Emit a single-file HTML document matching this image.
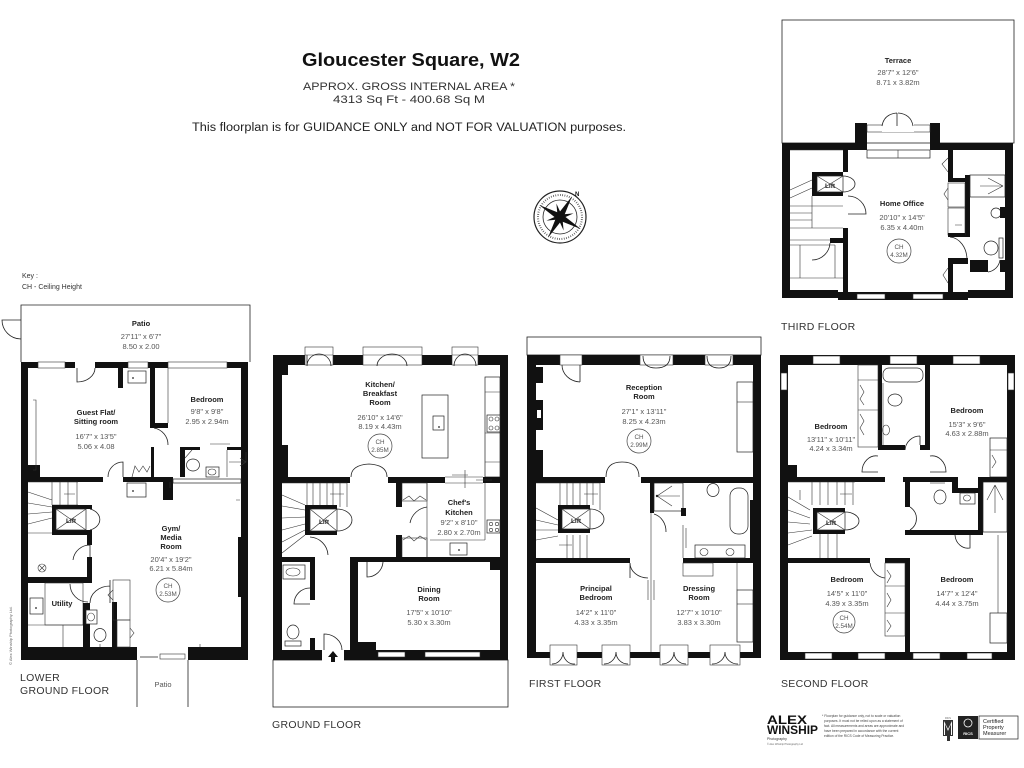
<!DOCTYPE html>
<html><head><meta charset="utf-8"><style>
html,body{margin:0;padding:0;background:#fff}
svg{display:block}
</style></head><body>
<svg xmlns="http://www.w3.org/2000/svg" width="1024" height="768" viewBox="0 0 1024 768">
<style>
.w{fill:#111}
.l{fill:none;stroke:#222;stroke-width:.8}
.t{fill:none;stroke:#333;stroke-width:.6}
.f{fill:#fff;stroke:#222;stroke-width:.7}
.wn{fill:#fff;stroke:#333;stroke-width:.6}
text{font-family:"Liberation Sans",sans-serif}
.n{font-weight:bold;font-size:7.5px;fill:#222;text-anchor:middle}
.d{font-size:7.5px;fill:#555;text-anchor:middle}
.c{font-size:6.3px;fill:#555;text-anchor:middle}
.lf{font-size:6.5px;fill:#222;text-anchor:middle;font-weight:bold}
.fl{font-size:10.5px;fill:#333;letter-spacing:.3px}
</style>
<rect width="1024" height="768" fill="#fff"/>

<!-- HEADER -->
<text x="411" y="66" text-anchor="middle" font-size="18.5" font-weight="bold" fill="#111" textLength="218" lengthAdjust="spacingAndGlyphs">Gloucester Square, W2</text>
<text x="409" y="90" text-anchor="middle" font-size="11" fill="#333" textLength="212" lengthAdjust="spacingAndGlyphs">APPROX. GROSS INTERNAL  AREA *</text>
<text x="409" y="103" text-anchor="middle" font-size="11" fill="#333" textLength="152" lengthAdjust="spacingAndGlyphs">4313 Sq Ft  -  400.68 Sq M</text>
<text x="409" y="131" text-anchor="middle" font-size="11.5" fill="#222" textLength="434" lengthAdjust="spacingAndGlyphs">This floorplan is for GUIDANCE ONLY and NOT FOR VALUATION purposes.</text>

<text x="22" y="278" font-size="7" fill="#333">Key :</text>
<text x="22" y="289" font-size="7" fill="#333">CH - Ceiling Height</text>

<!-- COMPASS -->
<g>
<circle cx="560" cy="217" r="26" fill="none" stroke="#222" stroke-width="1.2"/>
<circle cx="560" cy="217" r="22" fill="none" stroke="#444" stroke-width="2" stroke-dasharray=".7 1.6"/>
<circle cx="560" cy="217" r="17" fill="none" stroke="#222" stroke-width=".8"/>
<g transform="rotate(30 560 217)">
<polygon points="560,193 563,214 584,217 563,220 560,241 557,220 536,217 557,214" fill="#111"/>
</g>
<g transform="rotate(75 560 217)">
<polygon points="560,203 562,215 574,217 562,219 560,231 558,219 546,217 558,215" fill="#111"/>
</g>
<text x="575" y="196" font-size="6" font-weight="bold" fill="#111">N</text>
</g>

<!-- ============ LOWER GROUND FLOOR ============ -->
<path class="l" d="M21 362V305H250V362"/>
<path class="l" d="M21 320H2A19 19 0 0 0 21 339"/>
<rect class="w" x="21" y="362" width="227" height="6"/>
<rect class="wn" x="38" y="362" width="27" height="6"/>
<rect class="wn" x="128" y="362" width="20" height="6"/>
<rect class="wn" x="168" y="362" width="59" height="6"/>
<rect x="75" y="361" width="20" height="8" fill="#fff"/>
<path class="l" d="M77 368V382A18 14 0 0 0 95 368"/>
<rect class="w" x="21" y="362" width="7" height="298"/>
<rect class="w" x="241" y="362" width="7" height="298"/>
<rect class="w" x="21" y="647" width="116" height="13"/>
<rect class="w" x="188" y="647" width="60" height="13"/>
<rect class="wn" x="160" y="654" width="25" height="5"/>
<path class="l" d="M137 660V707M188 660V707M140 657H158"/>
<!-- interior -->
<rect class="w" x="28" y="465" width="12" height="17"/>
<rect class="w" x="28" y="477" width="75" height="5"/>
<path class="l" d="M123 477V462A15 15 0 0 0 108 477"/>
<rect class="w" x="123" y="477" width="50" height="5"/>
<rect class="w" x="163" y="477" width="10" height="23"/>
<rect class="f" x="173" y="479" width="68" height="4"/>
<rect class="f" x="127" y="483" width="19" height="14"/>
<circle cx="133" cy="491" r=".9" fill="#222"/>
<rect class="w" x="118" y="368" width="5" height="20"/>
<rect class="f" x="128" y="371" width="18" height="12"/>
<circle cx="133" cy="378" r=".9" fill="#222"/>
<rect class="w" x="150" y="368" width="5" height="60"/>
<rect class="w" x="150" y="423" width="18" height="5"/>
<path class="t" d="M168 368V423"/>
<path class="l" d="M154 428A17 17 0 0 1 168 445"/>
<rect class="w" x="151" y="447" width="3" height="30"/>
<path class="t" d="M132 477L135 466L139 472L143 466L147 472L150 466"/>
<path class="t" d="M33 400H36V470H33"/>
<!-- bathroom LG -->
<path class="w" d="M180 447H200V450H185V477H180Z"/>
<path class="t" d="M185 458L192 450"/>
<rect class="w" x="227" y="447" width="21" height="3"/>
<path class="t" d="M210 444H230M227 450V477"/>
<ellipse class="f" cx="193" cy="465" rx="6.5" ry="6"/>
<rect class="f" x="206" y="467" width="13" height="10"/>
<ellipse class="t" cx="212" cy="472" rx="4" ry="3"/>
<path class="t" d="M229 462H246M240 458L246 462L240 466M246 462V452"/>
<!-- stairs LG -->
<path class="t" d="M28 482H78M52 482V505M60 482V505M68 482V505M77 482V505M52 505H78M28 492L52 500M28 503L52 507M28 514L52 512M28 524L52 518M28 533H52M64 494H75"/>
<rect class="w" x="52" y="505" width="40" height="4"/>
<rect class="w" x="52" y="505" width="4" height="30"/>
<rect class="w" x="52" y="530" width="40" height="5"/>
<rect class="f" x="56" y="509" width="30" height="21"/>
<path class="t" d="M56 509L86 530M86 509L56 530"/>
<text class="lf" x="71" y="523">Lift</text>
<path class="l" d="M90 509A14 11 0 0 1 90 530"/>
<rect class="w" x="87" y="535" width="5" height="10"/>
<path class="l" d="M90 545A17 17 0 0 0 73 560M90 545V560"/>
<rect class="w" x="87" y="557" width="5" height="21"/>
<rect class="w" x="21" y="577" width="71" height="6"/>
<circle class="t" cx="42" cy="568" r="4"/>
<path class="t" d="M39 565L45 571M45 565L39 571"/>
<!-- utility/WC -->
<rect class="t" x="45" y="583" width="38" height="42"/>
<rect class="f" x="30" y="598" width="13" height="16"/>
<circle cx="36" cy="608" r=".9" fill="#222"/>
<path class="t" d="M28 625H83M63 625V647"/>
<path class="l" d="M70 584A18 18 0 0 0 88 602"/>
<rect class="w" x="83" y="603" width="7" height="44"/>
<path class="l" d="M90 603A20 17 0 0 1 110 586M110 580V603"/>
<rect class="f" x="86" y="610" width="11" height="14"/>
<ellipse class="t" cx="91" cy="617" rx="3.5" ry="4"/>
<ellipse class="f" cx="100" cy="635" rx="6" ry="6.5"/>
<rect class="w" x="112" y="602" width="5" height="45"/>
<rect class="t" x="113" y="580" width="17" height="40"/>
<rect class="t" x="117" y="620" width="13" height="27"/>
<path class="t" d="M113 590L108 595L113 600M130 628L134 633L130 638"/>
<rect class="w" x="238" y="537" width="10" height="60"/>
<path class="t" d="M170 482V488M100 644V647M200 644V647M240 500H236"/>
<!-- text LG -->
<text class="n" x="141" y="326">Patio</text>
<text class="d" x="141" y="339">27'11" x 6'7"</text>
<text class="d" x="141" y="349">8.50 x 2.00</text>
<text class="n" x="96" y="415">Guest Flat/</text>
<text class="n" x="96" y="424">Sitting room</text>
<text class="d" x="96" y="439">16'7" x 13'5"</text>
<text class="d" x="96" y="449">5.06 x 4.08</text>
<text class="n" x="207" y="402">Bedroom</text>
<text class="d" x="207" y="414">9'8" x 9'8"</text>
<text class="d" x="207" y="424">2.95 x 2.94m</text>
<text class="n" x="171" y="531">Gym/</text>
<text class="n" x="171" y="540">Media</text>
<text class="n" x="171" y="549">Room</text>
<text class="d" x="171" y="562">20'4" x 19'2"</text>
<text class="d" x="171" y="571">6.21 x 5.84m</text>
<circle cx="168" cy="590" r="12" fill="none" stroke="#444" stroke-width=".7"/>
<text class="c" x="168" y="588">CH</text>
<text class="c" x="168" y="596">2.53M</text>
<text class="n" x="62" y="606">Utility</text>
<text x="163" y="687" font-size="7.5" fill="#555" text-anchor="middle">Patio</text>
<text x="12" y="665" font-size="4" fill="#666" transform="rotate(-90 12 665)">© Alex Winship Photography Ltd.</text>
<text class="fl" x="20" y="681">LOWER</text>
<text class="fl" x="20" y="694">GROUND FLOOR</text>

<!-- ============ GROUND FLOOR ============ -->
<rect class="l" x="273" y="660" width="235" height="47"/>
<rect class="w" x="273" y="355" width="235" height="10"/>
<rect class="w" x="273" y="355" width="9" height="305"/>
<rect class="w" x="500" y="355" width="8" height="305"/>
<rect class="w" x="273" y="650" width="235" height="10"/>
<!-- top openings -->
<rect class="wn" x="305" y="347" width="28" height="18"/>
<rect class="wn" x="363" y="347" width="59" height="18"/>
<rect class="wn" x="452" y="347" width="26" height="18"/>
<path class="t" d="M305 355H333M363 355H422M452 355H478"/>
<path class="l" d="M307 365V355M307 366A12 12 0 0 1 319 354M331 366A12 12 0 0 0 319 354"/>
<path class="l" d="M377 366A15 12 0 0 1 392 354M407 366A15 12 0 0 0 392 354"/>
<path class="l" d="M454 366A11 12 0 0 1 465 354M476 366A11 12 0 0 0 465 354"/>
<rect class="w" x="282" y="365" width="6" height="10"/>
<rect class="w" x="282" y="445" width="6" height="32"/>
<!-- counters -->
<rect class="f" x="485" y="377" width="15" height="100"/>
<path class="t" d="M485 392H500M485 433H500M485 462H500"/>
<rect class="f" x="487" y="415" width="13" height="17"/>
<circle class="t" cx="491" cy="419" r="2"/><circle class="t" cx="497" cy="419" r="2"/><circle class="t" cx="491" cy="428" r="2"/><circle class="t" cx="497" cy="428" r="2"/>
<rect class="f" x="422" y="395" width="26" height="63"/>
<rect class="f" x="433" y="416" width="11" height="14"/>
<circle cx="439" cy="427" r=".9" fill="#222"/>
<!-- middle wall -->
<rect class="w" x="282" y="477" width="68" height="6"/>
<path class="l" d="M351 477Q351 465 369 464M387 477Q387 465 369 464"/>
<rect class="w" x="388" y="477" width="57" height="6"/>
<rect class="w" x="483" y="477" width="17" height="6"/>
<path class="t" d="M445 477H483M445 483H483M452 475H468M476 480H492M465 470V488"/>
<rect class="w" x="396" y="483" width="6" height="24"/>
<rect class="w" x="396" y="535" width="6" height="25"/>
<rect class="t" x="402" y="483" width="25" height="18"/>
<rect class="t" x="402" y="538" width="25" height="20"/>
<path class="t" d="M403 500L409 496L414 501L420 496L426 500M403 540L409 536L414 541L420 536L426 540M427 483V560"/>
<path class="l" d="M427 507A20 20 0 0 0 410 523"/>
<path class="t" d="M430 540H485M485 483V540"/>
<rect class="f" x="487" y="520" width="13" height="13"/>
<circle class="t" cx="491" cy="524" r="1.7"/><circle class="t" cx="497" cy="524" r="1.7"/><circle class="t" cx="491" cy="530" r="1.7"/><circle class="t" cx="497" cy="530" r="1.7"/>
<rect class="f" x="450" y="543" width="17" height="12"/>
<circle cx="459" cy="550" r=".9" fill="#222"/>
<!-- stairs GF -->
<path class="t" d="M282 483H347M307 483V507M313 483V507M320 483V507M327 483V507M333 483V507M340 483V507M347 483V507M282 495L305 505M282 506L305 510M282 518L305 517M282 530L305 524M282 542L305 530M282 553L305 535M330 494H344"/>
<rect class="w" x="305" y="505" width="32" height="4"/>
<rect class="w" x="305" y="505" width="5" height="30"/>
<rect class="w" x="305" y="531" width="32" height="4"/>
<rect class="f" x="310" y="509" width="27" height="22"/>
<path class="t" d="M310 509L337 531M337 509L310 531"/>
<text class="lf" x="324" y="524">Lift</text>
<path class="l" d="M337 509A15 11 0 0 1 337 531"/>
<path class="l" d="M310 537A19 19 0 0 1 328 555"/>
<rect class="w" x="282" y="557" width="33" height="5"/>
<rect class="w" x="310" y="562" width="5" height="38"/>
<rect class="w" x="310" y="638" width="5" height="12"/>
<path class="l" d="M310 604H294A16 16 0 0 1 310 588"/>
<rect class="f" x="283" y="565" width="22" height="14"/>
<ellipse class="t" cx="293" cy="572" rx="7" ry="4"/>
<ellipse class="f" cx="293" cy="632" rx="6" ry="7"/>
<rect class="f" x="285" y="641" width="16" height="5"/>
<!-- dining -->
<rect class="w" x="350" y="557" width="150" height="5"/>
<rect class="w" x="350" y="562" width="8" height="88"/>
<path class="l" d="M367 562V577A16 16 0 0 0 383 562"/>
<rect class="w" x="490" y="562" width="10" height="8"/>
<rect class="w" x="358" y="642" width="18" height="8"/>
<rect class="wn" x="378" y="652" width="27" height="5"/>
<rect class="wn" x="425" y="652" width="55" height="5"/>
<rect x="322" y="649" width="22" height="12" fill="#fff"/>
<path class="l" d="M324 650V634A18 16 0 0 1 342 650"/>
<path d="M333 651L328 657H331V662H335V657H338Z" fill="#111"/>
<!-- text GF -->
<text class="n" x="380" y="387">Kitchen/</text>
<text class="n" x="380" y="396">Breakfast</text>
<text class="n" x="380" y="405">Room</text>
<text class="d" x="380" y="420">26'10" x 14'6"</text>
<text class="d" x="380" y="429">8.19 x 4.43m</text>
<circle cx="380" cy="446" r="12" fill="none" stroke="#444" stroke-width=".7"/>
<text class="c" x="380" y="444">CH</text>
<text class="c" x="380" y="452">2.85M</text>
<text class="n" x="459" y="505">Chef's</text>
<text class="n" x="459" y="515">Kitchen</text>
<text class="d" x="459" y="525">9'2" x 8'10"</text>
<text class="d" x="459" y="535">2.80 x 2.70m</text>
<text class="n" x="429" y="592">Dining</text>
<text class="n" x="429" y="601">Room</text>
<text class="d" x="429" y="615">17'5" x 10'10"</text>
<text class="d" x="429" y="625">5.30 x 3.30m</text>
<text class="fl" x="272" y="728">GROUND FLOOR</text>

<!-- ============ FIRST FLOOR ============ -->
<rect class="l" x="527" y="337" width="234" height="18"/>
<rect class="w" x="527" y="355" width="234" height="10"/>
<rect class="w" x="527" y="355" width="9" height="303"/>
<rect class="w" x="753" y="355" width="8" height="303"/>
<rect class="w" x="527" y="652" width="234" height="6"/>
<rect class="wn" x="560" y="355" width="22" height="10"/>
<path class="l" d="M562 365A19 17 0 0 0 580 382M580 365V382"/>
<rect class="wn" x="640" y="355" width="33" height="10"/>
<path class="l" d="M643 356Q643 368 656 368M670 356Q670 368 656 368"/>
<rect class="wn" x="705" y="355" width="28" height="10"/>
<path class="l" d="M707 356Q707 368 719 368M731 356Q731 368 719 368"/>
<rect class="w" x="535" y="367" width="8" height="16"/>
<rect class="w" x="535" y="400" width="8" height="30"/>
<rect x="537" y="410" width="4" height="8" fill="#fff"/>
<rect class="w" x="535" y="450" width="8" height="27"/>
<rect class="f" x="737" y="382" width="16" height="70"/>
<path class="t" d="M737 402H753"/>
<rect class="w" x="536" y="477" width="69" height="6"/>
<path class="l" d="M606 477Q606 462 622 462M639 477Q639 462 622 462"/>
<rect class="w" x="641" y="477" width="112" height="6"/>
<!-- stairs FF -->
<path class="t" d="M536 483H600M560 483V505M567 483V505M573 483V505M580 483V505M587 483V505M593 483V505M600 483V510M536 508L558 520M536 520L558 525M536 530L558 530M536 540L558 536M567 535V558M573 535V558M580 535V558M587 535V558M559 545H572M584 494H598"/>
<rect class="w" x="558" y="505" width="32" height="4"/>
<rect class="w" x="558" y="505" width="4" height="28"/>
<rect class="w" x="558" y="529" width="32" height="4"/>
<rect class="f" x="562" y="509" width="28" height="20"/>
<path class="t" d="M562 509L590 529M590 509L562 529"/>
<text class="lf" x="576" y="523">Lift</text>
<path class="l" d="M590 509A14 10 0 0 1 590 529"/>
<rect class="w" x="536" y="558" width="94" height="5"/>
<path class="l" d="M630 563V578M630 563A18 15 0 0 0 648 578"/>
<rect class="w" x="683" y="558" width="70" height="5"/>
<!-- bath FF -->
<rect class="w" x="650" y="483" width="4" height="30"/>
<path class="t" d="M651 513V652M654 580V600M648 580V600"/>
<path class="l" d="M654 514A16 18 0 0 1 666 532"/>
<rect class="f" x="654" y="483" width="29" height="28"/>
<rect class="w" x="681" y="508" width="5" height="8"/>
<path class="t" d="M657 496H680M657 496L672 486M657 496L672 506"/>
<circle cx="657" cy="496" r="1.2" fill="#222"/>
<ellipse class="f" cx="713" cy="490" rx="6" ry="6.5"/>
<rect class="f" x="730" y="488" width="18" height="46" rx="8"/>
<rect class="w" x="750" y="500" width="4" height="60"/>
<rect class="f" x="695" y="545" width="50" height="13"/>
<ellipse class="t" cx="704" cy="552" rx="4" ry="3.5"/>
<ellipse class="t" cx="730" cy="552" rx="4" ry="3.5"/>
<path class="t" d="M683 525V558M686 528V548"/>
<rect class="t" x="683" y="563" width="30" height="13"/>
<path class="t" d="M737 563V590"/>
<rect class="f" x="737" y="590" width="16" height="52"/>
<path class="t" d="M737 604H753"/>
<!-- bottom french doors FF -->
<rect class="wn" x="550" y="645" width="27" height="20"/>
<rect class="wn" x="602" y="645" width="28" height="20"/>
<rect class="wn" x="660" y="645" width="28" height="20"/>
<rect class="wn" x="710" y="645" width="30" height="20"/>
<path class="l" d="M552 664A11 12 0 0 0 563 652M575 664A11 12 0 0 1 563 652M604 664A12 12 0 0 0 616 652M628 664A12 12 0 0 1 616 652M662 664A12 12 0 0 0 674 652M686 664A12 12 0 0 1 674 652M712 664A13 12 0 0 0 725 652M738 664A13 12 0 0 1 725 652"/>
<!-- text FF -->
<text class="n" x="644" y="390">Reception</text>
<text class="n" x="644" y="399">Room</text>
<text class="d" x="644" y="414">27'1" x 13'11"</text>
<text class="d" x="644" y="424">8.25 x 4.23m</text>
<circle cx="639" cy="441" r="12" fill="none" stroke="#444" stroke-width=".7"/>
<text class="c" x="639" y="439">CH</text>
<text class="c" x="639" y="447">2.99M</text>
<text class="n" x="596" y="591">Principal</text>
<text class="n" x="596" y="600">Bedroom</text>
<text class="d" x="596" y="615">14'2" x 11'0"</text>
<text class="d" x="596" y="625">4.33 x 3.35m</text>
<text class="n" x="699" y="591">Dressing</text>
<text class="n" x="699" y="600">Room</text>
<text class="d" x="699" y="615">12'7" x 10'10"</text>
<text class="d" x="699" y="625">3.83 x 3.30m</text>
<text class="fl" x="529" y="687">FIRST FLOOR</text>

<!-- ============ SECOND FLOOR ============ -->
<rect class="w" x="780" y="355" width="235" height="10"/>
<rect class="w" x="780" y="355" width="8" height="305"/>
<rect class="w" x="1007" y="355" width="8" height="305"/>
<rect class="w" x="780" y="652" width="235" height="8"/>
<rect class="wn" x="813" y="356" width="27" height="8"/>
<rect class="wn" x="890" y="356" width="27" height="8"/>
<rect class="wn" x="953" y="356" width="27" height="8"/>
<rect class="wn" x="781" y="373" width="6" height="17"/>
<rect class="wn" x="1008" y="373" width="6" height="17"/>
<rect class="wn" x="805" y="653" width="27" height="6"/>
<rect class="wn" x="858" y="653" width="27" height="6"/>
<rect class="wn" x="913" y="653" width="27" height="6"/>
<rect class="wn" x="967" y="653" width="25" height="6"/>
<rect class="w" x="878" y="365" width="4" height="85"/>
<rect class="w" x="925" y="365" width="5" height="85"/>
<rect class="w" x="878" y="445" width="27" height="5"/>
<rect class="w" x="920" y="445" width="10" height="5"/>
<rect class="t" x="858" y="365" width="20" height="82"/>
<path class="t" d="M858 380H878M858 410H878M860 385L864 392L860 399L864 405M860 414L864 421L860 428L864 435"/>
<rect class="f" x="883" y="368" width="40" height="14" rx="6"/>
<ellipse class="f" cx="895" cy="400" rx="7" ry="6"/>
<path class="t" d="M883 383V445"/>
<ellipse class="t" cx="886" cy="430" rx="3.5" ry="5"/>
<path class="l" d="M905 450A15 15 0 0 1 920 436M920 436V445"/>
<path class="l" d="M878 456A14 16 0 0 0 862 472H878M930 456A14 16 0 0 1 946 472H930"/>
<rect class="f" x="990" y="438" width="17" height="39"/>
<path class="t" d="M990 450H1007M992 455L996 462L992 468"/>
<rect class="w" x="788" y="465" width="9" height="17"/>
<rect class="w" x="788" y="477" width="97" height="5"/>
<rect class="w" x="903" y="477" width="52" height="5"/>
<rect class="w" x="952" y="477" width="6" height="16"/>
<rect class="w" x="952" y="488" width="31" height="5"/>
<rect class="w" x="978" y="477" width="29" height="5"/>
<rect class="w" x="978" y="477" width="5" height="55"/>
<ellipse class="f" cx="940" cy="497" rx="6" ry="7"/>
<path class="t" d="M930 483H945"/>
<rect class="f" x="960" y="493" width="15" height="11"/>
<ellipse class="t" cx="967" cy="498" rx="3.5" ry="3"/>
<rect class="f" x="983" y="482" width="24" height="50"/>
<path class="t" d="M995 485V513M995 485L987 500M995 485L1003 500"/>
<rect class="w" x="905" y="482" width="5" height="25"/>
<path class="l" d="M910 507A15 14 0 0 1 910 530"/>
<rect class="w" x="905" y="530" width="78" height="5"/>
<path class="l" d="M955 535A13 14 0 0 0 970 548V535"/>
<rect class="w" x="905" y="558" width="5" height="94"/>
<!-- stairs SF -->
<path class="t" d="M788 482H855M812 482V505M820 482V505M828 482V505M837 482V505M845 482V505M853 482V505M788 497L810 510M788 510L810 518M788 522L810 524M788 533L812 530M788 545L812 536M828 533V558M837 533V558M820 533V558M840 494H852M800 490V500"/>
<rect class="w" x="813" y="508" width="32" height="4"/>
<rect class="w" x="813" y="508" width="4" height="26"/>
<rect class="w" x="813" y="530" width="32" height="4"/>
<rect class="f" x="817" y="512" width="28" height="18"/>
<path class="t" d="M817 512L845 530M845 512L817 530"/>
<text class="lf" x="831" y="525">Lift</text>
<path class="l" d="M845 512A14 9 0 0 1 845 530"/>
<rect class="w" x="788" y="558" width="82" height="5"/>
<path class="l" d="M870 563A17 17 0 0 0 885 578"/>
<rect class="w" x="885" y="558" width="25" height="5"/>
<rect class="t" x="885" y="563" width="20" height="73"/>
<path class="t" d="M885 586H905M885 613H905M887 570L891 576L887 583M887 593L891 600L887 607M887 620L891 626L887 632"/>
<path class="t" d="M998 535V613"/>
<rect class="f" x="990" y="613" width="17" height="30"/>
<!-- text SF -->
<text class="n" x="831" y="429">Bedroom</text>
<text class="d" x="831" y="442">13'11" x 10'11"</text>
<text class="d" x="831" y="451">4.24 x 3.34m</text>
<text class="n" x="967" y="413">Bedroom</text>
<text class="d" x="967" y="427">15'3" x 9'6"</text>
<text class="d" x="967" y="436">4.63 x 2.88m</text>
<text class="n" x="847" y="582">Bedroom</text>
<text class="d" x="847" y="596">14'5" x 11'0"</text>
<text class="d" x="847" y="606">4.39 x 3.35m</text>
<circle cx="844" cy="622" r="11" fill="none" stroke="#444" stroke-width=".7"/>
<text class="c" x="844" y="620">CH</text>
<text class="c" x="844" y="628">2.54M</text>
<text class="n" x="957" y="582">Bedroom</text>
<text class="d" x="957" y="596">14'7" x 12'4"</text>
<text class="d" x="957" y="606">4.44 x 3.75m</text>
<text class="fl" x="781" y="687">SECOND FLOOR</text>

<!-- ============ THIRD FLOOR ============ -->
<rect class="l" x="782" y="20" width="232" height="123"/>
<rect class="w" x="782" y="143" width="85" height="7"/>
<rect class="w" x="855" y="123" width="12" height="27"/>
<rect class="w" x="930" y="123" width="10" height="27"/>
<rect class="w" x="930" y="143" width="83" height="7"/>
<rect class="w" x="782" y="143" width="8" height="155"/>
<rect class="w" x="1005" y="143" width="8" height="155"/>
<rect class="wn" x="867" y="125" width="63" height="7"/>
<rect x="882" y="118" width="32" height="14" fill="#fff"/>
<path class="l" d="M882 126Q884 114 897 113M913 126Q911 114 898 113M897 113V126"/>
<rect class="f" x="867" y="150" width="63" height="8"/>
<path class="t" d="M898 150V158"/>
<rect class="w" x="843" y="150" width="5" height="22"/>
<rect class="w" x="843" y="228" width="5" height="64"/>
<path class="l" d="M848 196A18 18 0 0 1 866 214H848"/>
<rect class="w" x="782" y="290" width="56" height="8"/>
<rect class="w" x="838" y="292" width="130" height="8"/>
<rect class="wn" x="857" y="294" width="28" height="5"/>
<rect class="wn" x="913" y="294" width="30" height="5"/>
<rect class="w" x="968" y="290" width="45" height="8"/>
<!-- right TF -->
<rect class="w" x="948" y="150" width="5" height="32"/>
<rect class="w" x="948" y="178" width="22" height="4"/>
<rect class="w" x="965" y="175" width="5" height="62"/>
<rect class="t" x="948" y="183" width="17" height="24"/>
<rect class="t" x="948" y="208" width="17" height="27"/>
<rect class="w" x="948" y="233" width="17" height="4"/>
<path class="t" d="M948 158L942 164L948 172M948 188L944 194L948 200M955 225H962"/>
<path class="l" d="M950 237A18 23 0 0 1 967 260"/>
<rect class="w" x="948" y="258" width="20" height="6"/>
<rect class="w" x="948" y="258" width="5" height="40"/>
<path class="t" d="M948 268L943 275L948 283"/>
<rect class="w" x="970" y="260" width="18" height="12"/>
<rect class="w" x="1000" y="260" width="5" height="12"/>
<rect class="f" x="970" y="175" width="35" height="22"/>
<path class="t" d="M1003 186H980M1003 186L988 178M1003 186L988 194"/>
<circle class="f" cx="996" cy="213" r="5"/>
<rect class="w" x="1000" y="207" width="5" height="11"/>
<ellipse class="f" cx="991" cy="248" rx="7" ry="7"/>
<rect class="f" x="999" y="238" width="4" height="20"/>
<path class="l" d="M988 272A14 14 0 0 0 1000 260"/>
<!-- left TF -->
<path class="t" d="M790 150H843"/>
<rect class="w" x="812" y="172" width="31" height="4"/>
<rect class="w" x="812" y="172" width="5" height="24"/>
<rect class="w" x="812" y="192" width="31" height="4"/>
<rect class="f" x="817" y="176" width="26" height="16"/>
<path class="t" d="M817 176L843 192M843 176L817 192"/>
<text class="lf" x="830" y="188">Lift</text>
<path class="l" d="M843 176A12 8 0 0 1 843 192"/>
<path class="t" d="M790 190L812 180M790 198L812 188M790 206H843M790 213H812M790 220H812M790 228H843M812 196V228"/>
<rect class="w" x="830" y="238" width="17" height="5"/>
<path class="t" d="M790 240H830M790 245H835M835 245V278M790 278H843M800 245V278"/>
<path class="l" d="M830 243A18 18 0 0 1 812 260"/>
<!-- text TF -->
<text class="n" x="898" y="63">Terrace</text>
<text class="d" x="898" y="75">28'7" x 12'6"</text>
<text class="d" x="898" y="85">8.71 x 3.82m</text>
<text class="n" x="902" y="206">Home Office</text>
<text class="d" x="902" y="220">20'10" x 14'5"</text>
<text class="d" x="902" y="230">6.35 x 4.40m</text>
<circle cx="899" cy="251" r="12" fill="none" stroke="#444" stroke-width=".7"/>
<text class="c" x="899" y="249">CH</text>
<text class="c" x="899" y="257">4.32M</text>
<text class="fl" x="781" y="330">THIRD FLOOR</text>

<!-- ============ LOGOS ============ -->
<text x="767" y="724" font-size="11.5" font-weight="bold" fill="#111" textLength="40" lengthAdjust="spacingAndGlyphs">ALEX</text>
<text x="767" y="734" font-size="11.5" font-weight="bold" fill="#111" textLength="51" lengthAdjust="spacingAndGlyphs">WINSHIP</text>
<text x="767" y="740" font-size="3.5" fill="#333">Photography</text>
<text x="767" y="745" font-size="2.5" fill="#666">© Alex Winship Photography Ltd</text>
<g font-size="3.3" fill="#444">
<text x="822" y="717">* Floorplan for guidance only, not to scale or valuation</text>
<text x="824" y="722">purposes. It must not be relied upon as a statement of</text>
<text x="824" y="727">fact. All measurements and areas are approximate and</text>
<text x="824" y="732">have been prepared in accordance with the current</text>
<text x="824" y="737">edition of the RICS Code of Measuring Practice.</text>
</g>
<g>
<rect x="943" y="720" width="10" height="16" fill="#333"/>
<path d="M944 721L948 729L952 721V735H951V724L948 731L945 724V735H944Z" fill="#fff"/>
<rect x="947" y="736" width="3" height="5" fill="#333"/>
<text x="948" y="719" font-size="2.5" fill="#666" text-anchor="middle">RICS</text>
<rect x="958" y="716" width="20" height="23" fill="#222"/>
<circle cx="968" cy="723" r="4" fill="none" stroke="#fff" stroke-width=".8"/>
<text x="968" y="735" font-size="4" font-weight="bold" fill="#fff" text-anchor="middle">RICS</text>
<rect x="979" y="716" width="39" height="23" fill="#fff" stroke="#222" stroke-width=".7"/>
<text x="983" y="723" font-size="5.5" fill="#222">Certified</text>
<text x="983" y="729" font-size="5.5" fill="#222">Property</text>
<text x="983" y="735" font-size="5.5" fill="#222">Measurer</text>
</g>
</svg>
</body></html>
